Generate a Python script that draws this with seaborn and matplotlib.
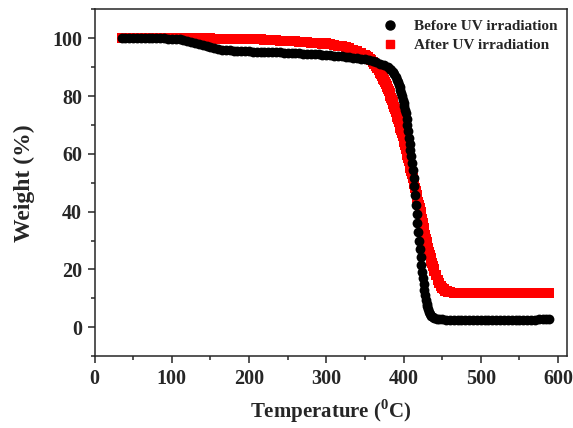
import numpy as np
import pandas as pd
import matplotlib
matplotlib.use("Agg")
import matplotlib.pyplot as plt
from matplotlib.lines import Line2D
import seaborn as sns

sns.set_style("ticks")
plt.rcParams['font.family'] = ['Liberation Serif', 'DejaVu Serif']
plt.rcParams['font.weight'] = 'bold'
plt.rcParams['mathtext.fontset'] = 'custom'
plt.rcParams['mathtext.rm'] = 'Liberation Serif:bold'
plt.rcParams['mathtext.bf'] = 'Liberation Serif:bold'

# ===== DATA =====
before_temp = [35, 40, 45, 50, 55, 60, 65, 70, 75, 80, 85, 90, 95, 100, 105, 110, 115, 120,
               125, 130, 135, 140, 145, 150, 155, 160, 165, 170, 175, 180, 185, 190, 195, 200,
               205, 210, 215, 220, 225, 230, 235, 240, 245, 250, 255, 260, 265, 270, 275, 280,
               285, 290, 295, 300, 305, 310, 315, 320, 325, 330, 335, 340, 345, 350, 355, 360,
               365, 370, 375, 380, 382, 384, 386, 388, 390, 392,
               393, 394, 395, 396, 397, 398, 399, 400, 401, 402, 403, 404, 405, 406, 407, 408,
               409, 410, 411, 412, 413, 414, 415, 416, 417, 418, 419, 420, 421, 422, 423, 424,
               425, 426, 427, 428, 429, 430, 431, 432, 433, 434, 436, 438, 440, 443, 446, 450,
               455, 460, 465, 470, 475, 480, 485, 490, 495, 500, 505, 510, 515, 520, 525, 530,
               535, 540, 545, 550, 555, 560, 565, 570, 575, 580, 585, 588]
before_weight = [100.0, 100.0, 100.0, 100.0, 100.0, 100.0, 100.0, 100.0, 100.0, 100.0, 100.0, 100.0,
                 99.9, 99.9, 99.8, 99.7, 99.5, 99.2, 98.8, 98.4, 98.0, 97.6, 97.2, 96.9, 96.6, 96.3,
                 96.1, 95.9, 95.8, 95.7, 95.6, 95.6, 95.5, 95.5, 95.4, 95.4, 95.3, 95.3, 95.2, 95.2,
                 95.1, 95.1, 95.0, 95.0, 94.9, 94.9, 94.8, 94.7, 94.7, 94.6, 94.5, 94.4, 94.3, 94.2,
                 94.1, 94.0, 93.9, 93.8, 93.6, 93.5, 93.3, 93.1, 92.9, 92.7, 92.4, 92.1, 91.7, 91.2,
                 90.6, 89.9, 89.5, 89.0, 88.4, 87.6, 86.7, 85.6,
                 84.8, 84.0, 83.1, 82.1, 81.1, 80.0, 78.8, 77.6, 76.4, 75.2, 74.1, 72.0, 69.9, 67.8,
                 65.6, 63.5, 61.3, 59.1, 56.9, 54.5, 51.7, 48.8, 45.6, 42.4, 39.3, 36.1, 33.0, 29.9,
                 27.0, 24.3, 21.7, 19.2, 16.9, 14.8, 12.8, 11.0, 9.5, 8.2, 7.2, 6.2, 5.4, 4.7, 4.0,
                 3.5, 3.2, 3.0, 2.8, 2.7,
                 2.6, 2.6, 2.5, 2.5, 2.5, 2.5, 2.5, 2.5, 2.5, 2.5, 2.5, 2.5, 2.5, 2.5, 2.5, 2.5,
                 2.5, 2.5, 2.6, 2.6, 2.6, 2.6, 2.6, 2.6, 2.7, 2.7, 2.7, 2.7]

after_temp = [35, 40, 45, 50, 55, 60, 65, 70, 75, 80, 85, 90, 95, 100, 105, 110, 115, 120,
              125, 130, 135, 140, 145, 150, 155, 160, 165, 170, 175, 180, 185, 190, 195, 200,
              205, 210, 215, 220, 225, 230, 235, 240, 245, 250, 255, 260, 265, 270, 275, 280,
              285, 290, 295, 300, 305, 310, 315, 320, 325, 330, 335, 340, 345,
              350, 352, 354, 356, 358, 360, 362, 364, 366, 368, 370, 371, 372, 373, 374, 375,
              376, 377, 378, 379, 380, 381, 382, 383, 384, 385, 386, 387, 388, 389, 390, 391,
              392, 393, 394, 395, 396, 397, 398, 399, 400, 401, 402, 403, 404, 405, 406, 407,
              408, 409, 410, 411, 412, 413, 414, 415, 416, 417, 418, 419, 420, 421, 422, 423,
              424, 425, 426, 427, 428, 429, 430, 431, 432, 433, 434, 435, 436, 437, 438, 439,
              440, 442, 444, 446, 448, 450, 452, 454, 456, 458, 460,
              465, 470, 475, 480, 485, 490, 495, 500, 505, 510, 515, 520, 525, 530, 535, 540,
              545, 550, 555, 560, 565, 570, 575, 580, 585, 588]
after_weight = [100.0, 100.0, 100.0, 100.0, 100.0, 100.0, 100.0, 100.0, 100.0, 100.0, 100.0, 100.0,
                100.0, 100.0, 100.0, 100.0, 100.0, 100.0, 100.0, 100.0, 100.0, 100.0, 100.0, 100.0,
                99.9, 99.9, 99.9, 99.9, 99.8, 99.8, 99.8, 99.8, 99.7, 99.7, 99.7, 99.6, 99.6, 99.5,
                99.5, 99.4, 99.3, 99.2, 99.2, 99.1, 99.0, 98.9, 98.8, 98.7, 98.6, 98.5, 98.4, 98.3,
                98.2, 98.3, 98.1, 97.8, 97.5, 97.2, 96.9, 96.5, 96.1, 95.6, 95.0,
                94.3, 93.9, 93.5, 93.0, 92.5, 91.9, 91.2, 90.5, 89.8, 88.9, 88.0, 87.5, 87.0, 86.5,
                86.0, 85.5, 84.9, 84.3, 83.6, 83.0, 82.3, 81.6, 80.9, 80.2, 79.4, 78.7, 77.9, 77.1,
                76.3, 75.5, 74.6, 73.7, 72.8, 71.9, 71.0, 70.1, 69.1, 68.1, 67.1, 66.1, 65.0, 64.0,
                62.9, 61.8, 60.7, 59.6, 58.5, 57.4, 56.3, 55.2, 54.0, 52.9, 51.7, 50.6, 49.4, 48.3,
                47.1, 45.9, 44.7, 43.5, 42.3, 41.1, 39.9, 38.7, 37.4, 36.0, 34.5, 33.2, 31.9, 30.7,
                29.6, 28.4, 27.3, 26.2, 25.1, 24.0, 23.0, 22.1, 21.2, 20.3,
                19.5, 17.9, 16.5, 15.3, 14.3, 13.6, 13.1, 12.7, 12.4, 12.2, 12.1,
                12.0, 12.0, 11.9, 11.9, 11.9, 11.9, 11.9, 11.9, 11.9, 11.9, 11.9, 11.9, 11.9, 11.9,
                11.9, 11.9, 11.9, 11.9, 11.9, 11.9, 11.9, 11.9, 11.9, 11.9, 11.9, 11.9]

labels = ["Before UV irradiation", "After UV irradiation"]

before = pd.DataFrame({"Temperature": before_temp, "Weight": before_weight})
after = pd.DataFrame({"Temperature": after_temp, "Weight": after_weight})

# ===== PLOT =====
fig = plt.figure(figsize=(5.73, 4.28), dpi=100)
ax = fig.add_axes([0.165, 0.168, 0.825, 0.810])

sns.scatterplot(data=after, x="Temperature", y="Weight", marker="s", color="#ff0000",
                s=46, linewidth=0, ax=ax, zorder=2)
sns.scatterplot(data=before, x="Temperature", y="Weight", marker="o", color="black",
                s=50, linewidth=0, ax=ax, zorder=3)

ax.set_xlim(0, 612)
ax.set_ylim(-10, 110)
ax.set_xticks(np.arange(0, 601, 100))
ax.set_xticks(np.arange(50, 601, 100), minor=True)
ax.set_yticks(np.arange(0, 101, 20))
ax.set_yticks(np.arange(-10, 111, 20), minor=True)
ax.tick_params(which='major', direction='out', length=5, width=1.1, labelsize=14.5, pad=4)
ax.tick_params(which='minor', direction='out', length=3, width=1.1)
for lab in ax.get_xticklabels() + ax.get_yticklabels():
    lab.set_fontweight('bold')
for sp in ax.spines.values():
    sp.set_linewidth(1.1)

ax.set_xlabel(r"Temperature ($^{\mathbf{0}}$C)", fontsize=15, fontweight='bold', labelpad=6)
ax.set_ylabel("Weight (%)", fontsize=17, fontweight='bold', labelpad=12)

handles = [Line2D([], [], marker='o', color='black', linestyle='', markersize=6.5),
           Line2D([], [], marker='s', color='#ff0000', linestyle='', markersize=6)]
ax.legend(handles, labels, loc='upper right', bbox_to_anchor=(1.0, 1.0), frameon=False,
          prop={'family': 'Liberation Serif', 'weight': 'bold', 'size': 11},
          handletextpad=0.8, handlelength=1.5, labelspacing=0.35, borderaxespad=0.25)

plt.savefig("out.png", dpi=100)
plt.close()
